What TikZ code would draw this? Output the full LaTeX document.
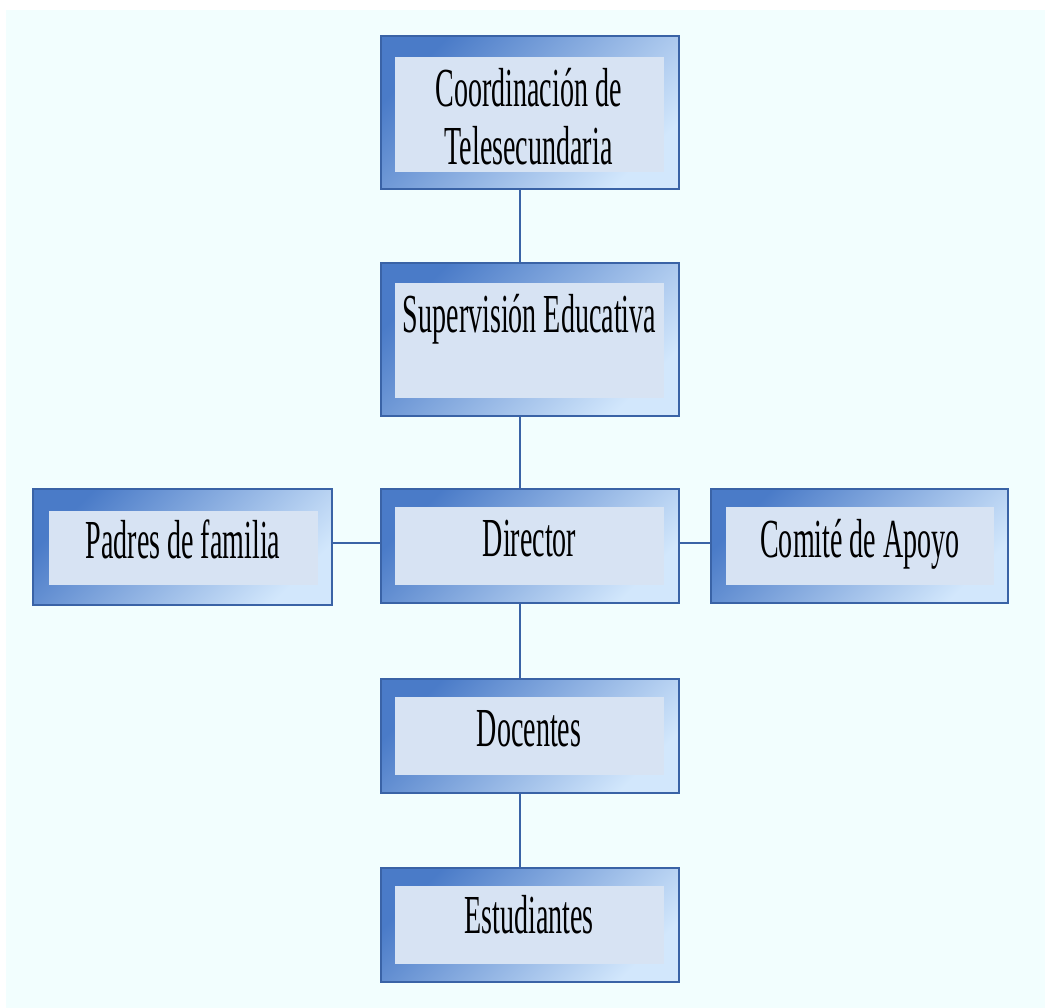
\documentclass[tikz,border=0pt]{standalone}
\usepackage{fontspec}
\newfontfamily\boxfont[FakeStretch=0.51]{Liberation Serif}
\definecolor{bgc}{HTML}{F2FEFE}
\definecolor{edgec}{HTML}{3A63A6}
\definecolor{darkb}{HTML}{4A7BC8}
\definecolor{lightb}{HTML}{D2E7FC}
\definecolor{innerc}{HTML}{D7E3F3}
\begin{document}
\begin{tikzpicture}[x=1pt,y=-1pt,
  outerbox/.style={draw=edgec, line width=1.6pt, top color=darkb, bottom color=lightb, shading angle=45, inner sep=0pt, outer sep=0pt},
  innerbox/.style={fill=innerc, inner sep=0pt, outer sep=0pt},
  lbl/.style={font=\boxfont\fontsize{55}{58}\selectfont, inner sep=0pt, anchor=base, align=center, text=black},
  link/.style={draw=edgec, line width=1.8pt}]
\useasboundingbox (0,0) rectangle (1045,1008);
\fill[bgc] (6,10) rectangle (1045,1008);
% boxes
\node[outerbox, minimum width=298pt, minimum height=153pt] (coord) at (530,112.5) {};
\node[innerbox, minimum width=269pt, minimum height=115pt] (coordin) at (529.5,114.5) {};
\node[outerbox, minimum width=298pt, minimum height=153pt] (sup) at (530,339.5) {};
\node[innerbox, minimum width=269pt, minimum height=115pt] (supin) at (529.5,340.5) {};
\node[outerbox, minimum width=298pt, minimum height=114pt] (dir) at (530,546) {};
\node[innerbox, minimum width=269pt, minimum height=78pt] (dirin) at (529.5,546) {};
\node[outerbox, minimum width=298pt, minimum height=114pt] (doc) at (530,736) {};
\node[innerbox, minimum width=269pt, minimum height=78pt] (docin) at (529.5,736) {};
\node[outerbox, minimum width=298pt, minimum height=114pt] (est) at (530,925) {};
\node[innerbox, minimum width=269pt, minimum height=78pt] (estin) at (529.5,925) {};
\node[outerbox, minimum width=299pt, minimum height=116pt] (pad) at (182.5,547) {};
\node[innerbox, minimum width=269pt, minimum height=74pt] (padin) at (183.5,548) {};
\node[outerbox, minimum width=297pt, minimum height=114pt] (com) at (859.5,546) {};
\node[innerbox, minimum width=268pt, minimum height=78pt] (comin) at (860,546) {};
% labels
\node[lbl] (coordt) at (528.5,165) {Coordinación de\\Telesecundaria};
\node[lbl] (supt) at (529.5,333) {Supervisión Educativa};
\node[lbl] (dirt) at (529.5,556) {Director};
\node[lbl] (doct) at (529,746) {Docentes};
\node[lbl] (estt) at (529,933) {Estudiantes};
\node[lbl] (padt) at (183,558) {Padres de familia};
\node[lbl] (comt) at (860,557) {Comité de Apoyo};
% connectors
\coordinate (vx) at (520,0);
\coordinate (hy) at (0,543);
\draw[link] (coord.south -| vx) -- (sup.north -| vx);
\draw[link] (sup.south -| vx) -- (dir.north -| vx);
\draw[link] (dir.south -| vx) -- (doc.north -| vx);
\draw[link] (doc.south -| vx) -- (est.north -| vx);
\draw[link] (pad.east |- hy) -- (dir.west |- hy);
\draw[link] (dir.east |- hy) -- (com.west |- hy);
\end{tikzpicture}
\end{document}
